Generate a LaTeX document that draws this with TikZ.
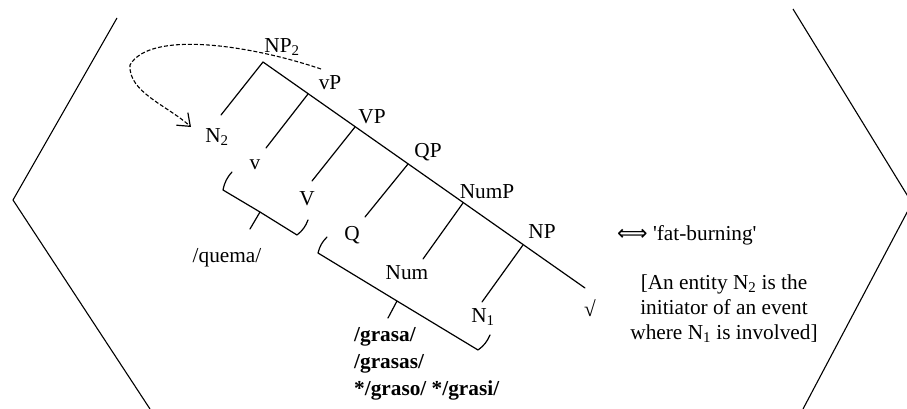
\documentclass[tikz,border=0pt]{standalone}
\usepackage{fontspec}
\setmainfont{Liberation Serif}
\newfontfamily\dvfont{DejaVu Sans}
\usetikzlibrary{arrows.meta}
\tikzset{
  lab/.style={inner sep=0pt, font=\fontsize{21.3}{25}\selectfont},
  side/.style={inner sep=0pt, font=\fontsize{21.3}{25}\selectfont},
  bold/.style={inner sep=0pt, font=\fontsize{21.3}{27}\selectfont\bfseries, align=left},
  branch/.style={line width=1.2pt, line cap=round},
  brk/.style={line width=1.2pt, line join=round, line cap=round},
  frame/.style={line width=1.1pt},
  move/.style={line width=1.1pt, dash pattern=on 4pt off 2pt, -{Straight Barb[length=11pt,width=17pt,line width=1.2pt]}}
}
\begin{document}
\begin{tikzpicture}[x=1pt,y=-1pt]
\useasboundingbox (0,0) rectangle (907,409);
\clip (0,0) rectangle (907,409);
% outer angle frame
\coordinate (LT) at (117,18);
\coordinate (LV) at (13,200);
\coordinate (LB) at (150,409);
\coordinate (RT) at (793,9);
\coordinate (RV) at (912,203);
\coordinate (RB) at (803,409);
\draw[frame] (LT) -- (LV) -- (LB);
\draw[frame] (RT) -- (RV) -- (RB);
% tree points
\coordinate (top) at (263,62);
\coordinate (s1) at (308,94);
\coordinate (s2) at (355,127);
\coordinate (s3) at (408,164);
\coordinate (s4) at (463,203);
\coordinate (s5) at (523,245);
\coordinate (send) at (585,288);
\coordinate (b0) at (221,115);
\coordinate (b1) at (266,148);
\coordinate (b2) at (312,181);
\coordinate (b3) at (365,217);
\coordinate (b4) at (423,259);
\coordinate (b5) at (482,302);
\draw[branch] (top) -- (send);
\draw[branch] (top) -- (b0);
\draw[branch] (s1) -- (b1);
\draw[branch] (s2) -- (b2);
\draw[branch] (s3) -- (b3);
\draw[branch] (s4) -- (b4);
\draw[branch] (s5) -- (b5);
% labels
\node[lab] (np2) at (282,47) {NP\textsubscript{2}};
\node[lab] (vpl) at (330,83) {vP};
\node[lab] (VPl) at (372,117) {VP};
\node[lab] (qp) at (428,152) {QP};
\node[lab] (nump) at (487,192) {NumP};
\node[lab] (np) at (542,232) {NP};
\node[lab] (n2) at (217,137) {N\textsubscript{2}};
\node[lab] (vl) at (255,165) {v};
\node[lab] (Vl) at (307,199) {V};
\node[lab] (q) at (352,235) {Q};
\node[lab] (num) at (407,273) {Num};
\node[lab] (n1) at (483,317) {N\textsubscript{1}};
\node[lab] (root) at (590,308) {√};
% brackets
\draw[brk] (232,172) to[bend right=15] (223,190) -- (260,212) -- (250,229);
\draw[brk] (260,212) -- (297,235) to[bend right=15] (308,220);
\draw[brk] (327,237) to[bend right=15] (318,253) -- (397,301) -- (388,318);
\draw[brk] (397,301) -- (478,350) to[bend right=15] (490,335);
% exponents
\node[lab] (quema) at (227,258) {/quema/};
\node[bold, anchor=north west] (grasa) at (354,327) {/grasa/\\/grasas/\\*/graso/ */grasi/};
% movement arrow
\coordinate (mvs) at (321,69);
\coordinate (mvt) at (191,127);
\draw[move] (mvs) .. controls (250,45) and (150,30) .. (130,65) .. controls (128,92) and (168,106) .. (mvt);
% meaning
\node[side, anchor=west] (mean) at (617,235) {{\dvfont ⟺} \textquotesingle fat-burning\textquotesingle};
\node[side, align=center] (gloss) at (724,309) {[An entity N\textsubscript{2} is the\\initiator of an event\\where N\textsubscript{1} is involved]};
\end{tikzpicture}
\end{document}
